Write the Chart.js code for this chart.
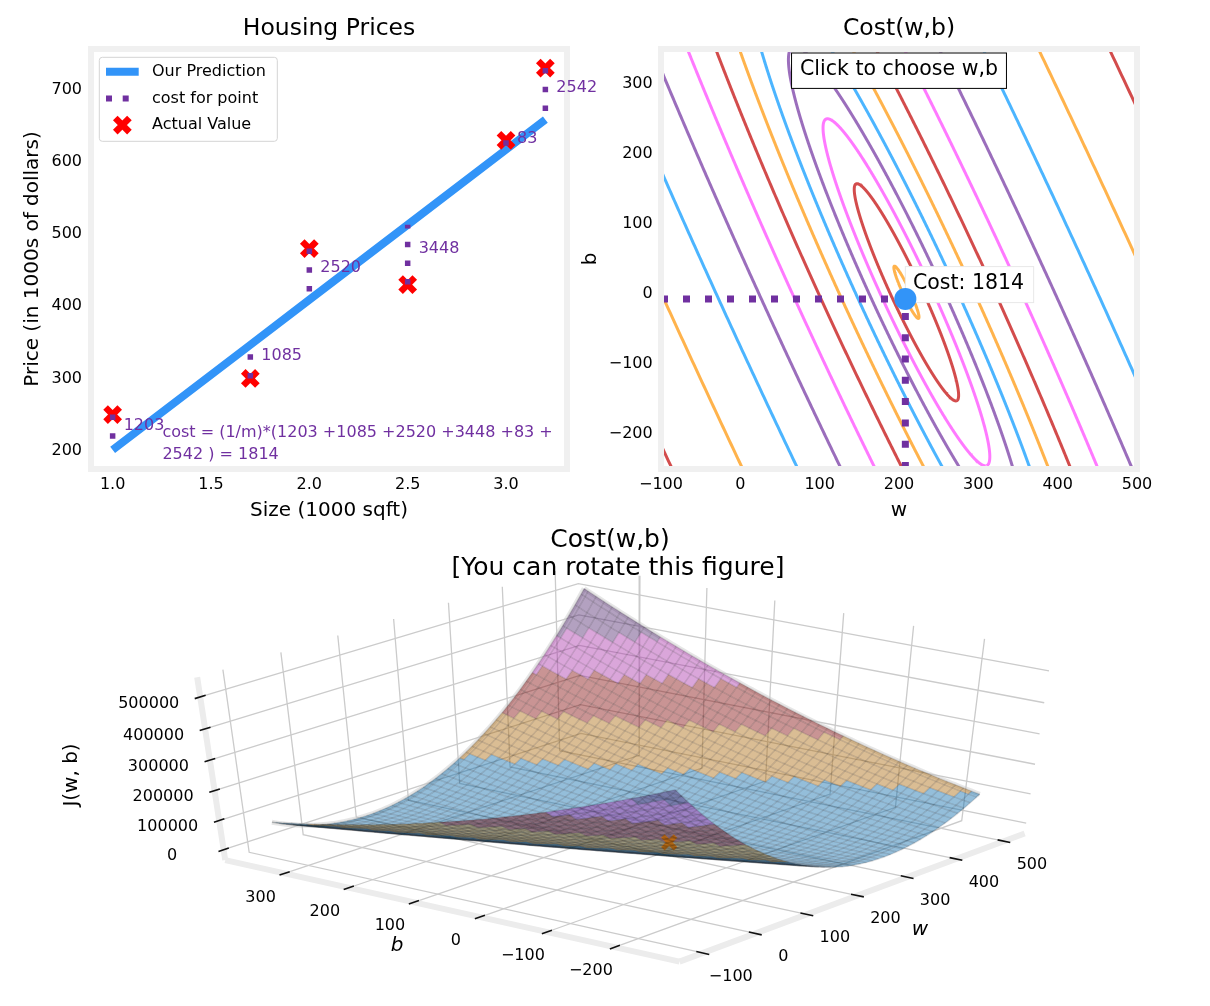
<!DOCTYPE html>
<html>
<head>
<meta charset="utf-8">
<title>Housing prices and cost</title>
<script src="https://cdn.jsdelivr.net/npm/chart.js@4.4.1/dist/chart.umd.min.js"></script>
<style>
  html, body { margin: 0; padding: 0; background: #ffffff; }
  #page { position: relative; width: 1210px; height: 1006px; overflow: hidden; }
  #page canvas { position: absolute; }
</style>
</head>
<body>
<div id="page">
  <canvas id="housing" width="600" height="530" style="left:0;top:0;width:600px;height:530px"></canvas>
  <canvas id="contour" width="635" height="530" style="left:575px;top:0;width:635px;height:530px"></canvas>
  <canvas id="surface" width="1210" height="486" style="left:0;top:520px;width:1210px;height:486px"></canvas>
</div>
<script>
// ---- values ----
const sizeX = [1.0, 1.7, 2.0, 2.5, 3.0, 3.2];          // 1000 sqft
const priceY = [250, 300, 480, 430, 630, 730];         // 1000s of dollars
const wPick = 208;                                     // chosen w
const bPick = -7;                                      // chosen b
const pointCost = [1203, 1085, 2520, 3448, 83, 2542];  // cost for each point
const totalCost = 1814;

const xTicks = [1.0, 1.5, 2.0, 2.5, 3.0];
const yTicks = [200, 300, 400, 500, 600, 700];
const wTicks = [-100, 0, 100, 200, 300, 400, 500];
const bTicks = [-200, -100, 0, 100, 200, 300];
const zTicks = [0, 100000, 200000, 300000, 400000, 500000];

const wRange = [-100, 500];
const bRange = [-250, 350];
const gridN = 100;
const contourLevels = [7.0, 7.5, 8.0, 8.5, 9.0, 9.5, 10.0, 10.5, 11.0, 11.5, 12.0, 12.5, 13.0, 13.5]; // log(cost)

// ---- styling ----
const FONT = "'DejaVu Sans', sans-serif";
const dlblue = '#0096ff', dlorange = '#FF9300', dldarkred = '#C00000', dlmagenta = '#FF40FF', dlpurple = '#7030A0';
const dlcolors = [dlblue, dlorange, dldarkred, dlmagenta, dlpurple];
const lineBlue = 'rgb(50,148,248)';

Chart.defaults.font.family = FONT;
Chart.defaults.color = '#000';
Chart.defaults.animation = false;
Chart.defaults.events = [];
Chart.defaults.plugins.legend.display = false;
Chart.defaults.plugins.tooltip.enabled = false;

function rgba(hex, a, k) {
  k = k === undefined ? 1 : k;
  const n = parseInt(hex.slice(1), 16);
  return 'rgba(' + Math.round(((n >> 16) & 255) * k) + ',' + Math.round(((n >> 8) & 255) * k) + ',' + Math.round((n & 255) * k) + ',' + a + ')';
}
const fmt = v => v < 0 ? '\u2212' + Math.abs(v) : String(v);

function noGrid() { return { display: false, drawTicks: false }; }

// light grey thick frame like the mpl style
const framePlugin = {
  id: 'frame',
  afterDatasetsDraw(chart) {
    const a = chart.chartArea, ctx = chart.ctx;
    ctx.save();
    ctx.strokeStyle = '#f0f0f0';
    ctx.lineWidth = 6;
    ctx.strokeRect(a.left, a.top, a.right - a.left, a.bottom - a.top);
    ctx.restore();
  }
};

function drawCross(ctx, x, y, r, lw, color) {
  const d = r * Math.SQRT1_2;
  ctx.save();
  ctx.strokeStyle = color;
  ctx.lineWidth = lw;
  ctx.beginPath();
  ctx.moveTo(x - d, y - d); ctx.lineTo(x + d, y + d);
  ctx.moveTo(x - d, y + d); ctx.lineTo(x + d, y - d);
  ctx.stroke();
  ctx.restore();
}

// ================= Housing Prices =================
const pred = sizeX.map(x => wPick * x + bPick);
const allY = priceY.concat(pred);
const xPad = 0.05 * (Math.max(...sizeX) - Math.min(...sizeX));
const yPad = 0.05 * (Math.max(...allY) - Math.min(...allY));

const housingLabels = {
  id: 'housingLabels',
  afterDraw(chart) {
    const ctx = chart.ctx, a = chart.chartArea;
    const xs = chart.scales.x, ys = chart.scales.y;
    ctx.save();
    ctx.fillStyle = dlpurple;
    ctx.font = '16px ' + FONT;
    ctx.textAlign = 'left';
    ctx.textBaseline = 'middle';
    sizeX.forEach((x, i) => {
      const px = xs.getPixelForValue(x) + 11;
      const py = ys.getPixelForValue((priceY[i] + pred[i]) / 2) - 6;
      ctx.fillText(String(pointCost[i]), px, py);
    });
    const first = pointCost.slice(0, 5).join(' +');
    const rest = pointCost.slice(5).join(' +');
    const tx = a.left + 0.15 * (a.right - a.left);
    ctx.fillText('cost = (1/m)*(' + first + ' +', tx, a.bottom - 36);
    ctx.fillText(rest + ' ) = ' + totalCost, tx, a.bottom - 14);

    // legend
    const bx = a.left + 8.3, by = a.top + 8.3, bw = 178, bh = 84;
    ctx.beginPath();
    if (ctx.roundRect) ctx.roundRect(bx, by, bw, bh, 3); else ctx.rect(bx, by, bw, bh);
    ctx.fillStyle = 'rgba(255,255,255,0.85)';
    ctx.fill();
    ctx.strokeStyle = '#d4d4d4';
    ctx.lineWidth = 1;
    ctx.stroke();
    const rowY = k => by + 14.4 + k * 26.7;
    const s0 = bx + 6.7, s1 = bx + 39.4;
    ctx.strokeStyle = lineBlue; ctx.lineWidth = 8;
    ctx.beginPath(); ctx.moveTo(s0, rowY(0)); ctx.lineTo(s1, rowY(0)); ctx.stroke();
    ctx.strokeStyle = dlpurple; ctx.lineWidth = 6; ctx.setLineDash([6, 10.7]);
    ctx.beginPath(); ctx.moveTo(s0, rowY(1)); ctx.lineTo(s1, rowY(1)); ctx.stroke();
    ctx.setLineDash([]);
    drawCross(ctx, (s0 + s1) / 2, rowY(2), 10, 6.5, '#ff0000');
    ctx.fillStyle = '#000';
    ctx.font = '16px ' + FONT;
    ['Our Prediction', 'cost for point', 'Actual Value'].forEach((t, k) => ctx.fillText(t, bx + 52.7, rowY(k)));
    ctx.restore();
  }
};

new Chart(document.getElementById('housing'), {
  type: 'scatter',
  data: {
    datasets: [
      ...sizeX.map((x, i) => ({
        label: 'cost for point',
        data: [{ x: x, y: priceY[i] }, { x: x, y: pred[i] }],
        showLine: true, borderColor: dlpurple, borderWidth: 5.5,
        borderDash: [5.5, 13.2], borderCapStyle: 'butt', pointRadius: 0, order: 0
      })),
      {
        label: 'Actual Value',
        data: sizeX.map((x, i) => ({ x: x, y: priceY[i] })),
        pointStyle: 'crossRot', pointRadius: 10, pointBorderWidth: 6.5,
        pointBorderColor: '#ff0000', pointBackgroundColor: '#ff0000', order: 1
      },
      {
        label: 'Our Prediction',
        data: sizeX.map((x, i) => ({ x: x, y: pred[i] })),
        showLine: true, borderColor: lineBlue, borderWidth: 8, pointRadius: 0, order: 2
      }
    ]
  },
  options: {
    responsive: false,
    layout: { padding: { top: 0, right: 33, bottom: 0, left: 0 }, autoPadding: false },
    scales: {
      x: {
        type: 'linear', min: Math.min(...sizeX) - xPad, max: Math.max(...sizeX) + xPad,
        grid: noGrid(), border: { display: false },
        afterBuildTicks: s => { s.ticks = xTicks.map(v => ({ value: v })); },
        afterFit: s => { s.height = 61; },
        ticks: { font: { size: 16 }, padding: 6.4, maxRotation: 0, autoSkip: false, callback: v => Number(v).toFixed(1) },
        title: { display: true, text: 'Size (1000 sqft)', font: { size: 20 }, padding: { top: 0, bottom: 7 } }
      },
      top: {
        type: 'linear', position: 'top', grid: noGrid(), border: { display: false },
        ticks: { display: false },
        afterFit: s => { s.height = 49; },
        title: { display: true, text: 'Housing Prices', font: { size: 23.5 }, padding: { top: 14.4, bottom: 0 } }
      },
      y: {
        type: 'linear', min: Math.min(...allY) - yPad, max: Math.max(...allY) + yPad,
        grid: noGrid(), border: { display: false },
        afterBuildTicks: s => { s.ticks = yTicks.map(v => ({ value: v })); },
        afterFit: s => { s.width = 91; },
        ticks: { font: { size: 16 }, padding: 9, autoSkip: false, callback: v => String(v) },
        title: { display: true, text: 'Price (in 1000s of dollars)', font: { size: 20 }, padding: { top: 21, bottom: 0 } }
      }
    }
  },
  plugins: [framePlugin, housingLabels]
});

// ================= Cost contour =================
const m = sizeX.length;
function costAt(w, b) {
  let s = 0;
  for (let i = 0; i < m; i++) { const e = w * sizeX[i] + b - priceY[i]; s += e * e; }
  return s / (2 * m);
}
const sumX = sizeX.reduce((s, v) => s + v, 0);
const sumXX = sizeX.reduce((s, v) => s + v * v, 0);
const sumY = priceY.reduce((s, v) => s + v, 0);
const sumXY = sizeX.reduce((s, v, i) => s + v * priceY[i], 0);
const wBest = (m * sumXY - sumX * sumY) / (m * sumXX - sumX * sumX);
const bBest = (sumY - wBest * sumX) / m;
const jBest = costAt(wBest, bBest);
const qa = sumXX / (2 * m), qb = sumX / (2 * m), qc = 0.5;
const qHalf = (qa + qc) / 2, qRad = Math.sqrt(((qa - qc) / 2) ** 2 + qb * qb);
const lam1 = qHalf - qRad, lam2 = qHalf + qRad;
const e1n = Math.hypot(qb, lam1 - qa);
const e1 = [qb / e1n, (lam1 - qa) / e1n];
const e2 = [-e1[1], e1[0]];

function levelCurve(level) {
  const r2 = level - jBest;
  if (r2 <= 0) return [];
  const a1 = Math.sqrt(r2 / lam1), a2 = Math.sqrt(r2 / lam2);
  const pts = [];
  const n = 1440;
  for (let k = 0; k <= n; k++) {
    const t = 2 * Math.PI * k / n;
    const c = a1 * Math.cos(t), s = a2 * Math.sin(t);
    pts.push({ x: wBest + c * e1[0] + s * e2[0], y: bBest + c * e1[1] + s * e2[1] });
  }
  return pts;
}

const contourSets = [];
contourLevels.forEach((L, k) => {
  const pts = levelCurve(Math.exp(L));
  if (!pts.length) return;
  contourSets.push({
    data: pts, showLine: true, borderColor: rgba(dlcolors[k % 5], 0.7),
    borderWidth: 3, pointRadius: 0, tension: 0.0001, order: 3
  });
});

const contourLabels = {
  id: 'contourLabels',
  beforeDatasetDraw(chart, args) {
    if (!chart.data.datasets[args.index].isPick) return;
    const ctx = chart.ctx;
    const px = chart.scales.x.getPixelForValue(wPick);
    const py = chart.scales.y.getPixelForValue(bPick);
    ctx.save();
    ctx.fillStyle = '#ffffff';
    ctx.fillRect(px, py - 32.3, 128.3, 36);
    ctx.strokeStyle = '#e8e8e8';
    ctx.lineWidth = 1;
    ctx.strokeRect(px, py - 32.3, 128.3, 36);
    ctx.fillStyle = '#000';
    ctx.font = '20.5px ' + FONT;
    ctx.textAlign = 'left';
    ctx.textBaseline = 'middle';
    ctx.fillText('Cost: ' + totalCost, px + 7.6, py - 15.3);
    ctx.restore();
  },
  afterDatasetsDraw(chart) {
    const ctx = chart.ctx, a = chart.chartArea;
    const cx = (a.left + a.right) / 2;
    ctx.save();
    ctx.font = '20.5px ' + FONT;
    const txt = 'Click to choose w,b';
    const tw = ctx.measureText(txt).width;
    const bx = cx - tw / 2 - 9, by = a.top + 3.5, bw = tw + 18, bh = 36.4;
    ctx.fillStyle = '#ffffff';
    ctx.fillRect(bx, by, bw, bh);
    ctx.strokeStyle = '#000';
    ctx.lineWidth = 1;
    ctx.strokeRect(bx + 0.5, by + 0.5, bw - 1, bh - 1);
    ctx.fillStyle = '#000';
    ctx.textAlign = 'center';
    ctx.textBaseline = 'middle';
    ctx.fillText(txt, cx, by + bh / 2 - 1);
    ctx.restore();
  }
};

new Chart(document.getElementById('contour'), {
  type: 'scatter',
  data: {
    datasets: [
      {
        isPick: true,
        data: [{ x: wPick, y: bPick }],
        pointRadius: 11, pointBackgroundColor: lineBlue, pointBorderWidth: 0, order: 0
      },
      {
        data: [{ x: wRange[0], y: bPick }, { x: wPick, y: bPick }],
        showLine: true, borderColor: dlpurple, borderWidth: 7, borderDash: [7, 15],
        borderCapStyle: 'butt', pointRadius: 0, order: 1
      },
      {
        data: [{ x: wPick, y: bRange[0] }, { x: wPick, y: bPick }],
        showLine: true, borderColor: dlpurple, borderWidth: 7, borderDash: [7, 14.3],
        borderCapStyle: 'butt', pointRadius: 0, order: 1
      },
      ...contourSets
    ]
  },
  options: {
    responsive: false,
    layout: { padding: { top: 0, right: 73, bottom: 0, left: 0 }, autoPadding: false },
    scales: {
      x: {
        type: 'linear', min: wRange[0], max: wRange[1],
        grid: noGrid(), border: { display: false },
        afterBuildTicks: s => { s.ticks = wTicks.map(v => ({ value: v })); },
        afterFit: s => { s.height = 61; },
        ticks: { font: { size: 16 }, padding: 6.4, maxRotation: 0, autoSkip: false, callback: v => fmt(v) },
        title: { display: true, text: 'w', font: { size: 20 }, padding: { top: 0, bottom: 7 } }
      },
      top: {
        type: 'linear', position: 'top', grid: noGrid(), border: { display: false },
        ticks: { display: false },
        afterFit: s => { s.height = 49; },
        title: { display: true, text: 'Cost(w,b)', font: { size: 23.5 }, padding: { top: 14.4, bottom: 0 } }
      },
      y: {
        type: 'linear', min: bRange[0], max: bRange[1],
        grid: noGrid(), border: { display: false },
        afterBuildTicks: s => { s.ticks = bTicks.map(v => ({ value: v })); },
        afterFit: s => { s.width = 86; },
        ticks: { font: { size: 16 }, padding: 8.3, autoSkip: false, callback: v => fmt(v) },
        title: { display: true, text: 'b', font: { size: 20 }, padding: { top: 4, bottom: 0 } }
      }
    }
  },
  plugins: [framePlugin, contourLabels]
});

// ================= 3D cost surface =================
const wGrid = [], bGrid = [];
for (let i = 0; i < gridN; i++) {
  wGrid.push(wRange[0] + (wRange[1] - wRange[0]) * i / (gridN - 1));
  bGrid.push(bRange[0] + (bRange[1] - bRange[0]) * i / (gridN - 1));
}
const zGrid = wGrid.map(w => bGrid.map(b => costAt(w, b)));
let zMin = Infinity, zMax = -Infinity;
zGrid.forEach(row => row.forEach(z => { if (z < zMin) zMin = z; if (z > zMax) zMax = z; }));

function padLim(lo, hi) { const s = hi - lo; return [lo - 0.05 * s, hi + 0.05 * s]; }
function paneBox(lim) { const d = (lim[1] - lim[0]) / 48; return [lim[0] - d, lim[1] + d]; }
const wLim = padLim(wRange[0], wRange[1]);
const bLim = padLim(bRange[0], bRange[1]);
const zLim = padLim(zMin, zMax);
const wBox = paneBox(wLim), bBox = paneBox(bLim), zBox = paneBox(zLim);

// camera and placement of the 3D box on the canvas
const view = { elev: 40, azim: -142, dist: 10 };
const screen3d = { cx: 627.6, cy: 238.5, kx: 5650, ky: 2285, w: 1210, h: 486 };
const er = view.elev * Math.PI / 180, ar = view.azim * Math.PI / 180;
const nV = [Math.cos(er) * Math.cos(ar), Math.cos(er) * Math.sin(ar), Math.sin(er)];
const uV = [-Math.sin(ar), Math.cos(ar), 0];
const vV = [-Math.sin(er) * Math.cos(ar), -Math.sin(er) * Math.sin(ar), Math.cos(er)];

function project(w, b, z) {
  const p = [
    (w - wLim[0]) / (wLim[1] - wLim[0]) - 0.5,
    (b - bLim[0]) / (bLim[1] - bLim[0]) - 0.5,
    (z - zLim[0]) / (zLim[1] - zLim[0]) - 0.5
  ];
  const dot = v => v[0] * p[0] + v[1] * p[1] + v[2] * p[2];
  const depth = dot(nV);
  const d = view.dist - depth;
  return { x: dot(uV) / d, y: dot(vV) / d, depth: depth };
}
const xy = p => ({ x: p.x, y: p.y });

const P = zGrid.map((row, i) => row.map((z, j) => project(wGrid[i], bGrid[j], z)));

const strideIdx = [];
for (let i = 0; i < gridN - 1; i += 2) strideIdx.push(i);
strideIdx.push(gridN - 1);

const faces = [];
for (let a = 0; a < strideIdx.length - 1; a++) {
  for (let c = 0; c < strideIdx.length - 1; c++) {
    const i0 = strideIdx[a], i1 = strideIdx[a + 1], j0 = strideIdx[c], j1 = strideIdx[c + 1];
    const corners = [[i0, j0], [i1, j0], [i1, j1], [i0, j1]];
    let zs = 0, ds = 0;
    corners.forEach(([i, j]) => { zs += zGrid[i][j]; ds += P[i][j].depth; });
    faces.push({ corners: corners, zAvg: zs / 4, depth: ds / 4 });
  }
}
let fLo = Infinity, fHi = -Infinity;
faces.forEach(f => { if (f.zAvg < fLo) fLo = f.zAvg; if (f.zAvg > fHi) fHi = f.zAvg; });
const faceColors = dlcolors.map(c => rgba(c, 0.42, 0.66));
faces.sort((p, q) => q.depth - p.depth); // nearest first (drawn last)

const faceSets = faces.map(f => {
  const band = Math.min(4, Math.floor((f.zAvg - fLo) / (fHi - fLo) * 5));
  return {
    data: f.corners.map(([i, j]) => xy(P[i][j])),
    showLine: true, fill: 'shape', backgroundColor: faceColors[band],
    borderWidth: 0, pointRadius: 0
  };
});

const wireSets = [];
strideIdx.forEach(i => wireSets.push(bGrid.map((_, j) => xy(P[i][j]))));
strideIdx.forEach(j => wireSets.push(wGrid.map((_, i) => xy(P[i][j]))));
const wireDatasets = wireSets.map(d => ({
  data: d, showLine: true, borderColor: 'rgba(0,0,0,0.12)', borderWidth: 1.5, pointRadius: 0
}));

// faint light edge around the surface border
const last = gridN - 1;
const rimPts = [];
for (let j = 0; j <= last; j++) rimPts.push(xy(P[last][j]));
const rimPts2 = [];
for (let i = 0; i <= last; i++) rimPts2.push(xy(P[i][last]));
const rimSets = [rimPts, rimPts2].map(d => ({
  data: d, showLine: true, borderColor: 'rgba(200,200,200,0.45)', borderWidth: 5, pointRadius: 0
}));

function seg(pts, color, width) {
  return { data: pts.map(q => xy(project(q[0], q[1], q[2]))), showLine: true, borderColor: color, borderWidth: width, pointRadius: 0, borderCapStyle: 'butt' };
}
const gridColor = '#cbcbcb';
const gridSets = [];
wTicks.forEach(w => gridSets.push(seg([[w, bBox[0], zBox[0]], [w, bBox[1], zBox[0]], [w, bBox[1], zBox[1]]], gridColor, 1.3)));
bTicks.forEach(b => gridSets.push(seg([[wBox[1], b, zBox[1]], [wBox[1], b, zBox[0]], [wBox[0], b, zBox[0]]], gridColor, 1.3)));
zTicks.forEach(z => gridSets.push(seg([[wBox[0], bBox[1], z], [wBox[1], bBox[1], z], [wBox[1], bBox[0], z]], gridColor, 1.3)));

const spineColor = '#ececec';
const spineSets = [
  seg([[wBox[0], bBox[0], zBox[0]], [wBox[1], bBox[0], zBox[0]]], spineColor, 6),
  seg([[wBox[0], bBox[0], zBox[0]], [wBox[0], bBox[1], zBox[0]]], spineColor, 6),
  seg([[wBox[0], bBox[1], zBox[0]], [wBox[0], bBox[1], zBox[1]]], spineColor, 6)
];
const dW = (wLim[1] - wLim[0]) / 12, dB = (bLim[1] - bLim[0]) / 12;
const tickSets = [];
wTicks.forEach(w => tickSets.push(seg([[w, bBox[0] - 0.17 * dB, zBox[0]], [w, bBox[0] + 0.17 * dB, zBox[0]]], '#111', 1.6)));
bTicks.forEach(b => tickSets.push(seg([[wBox[0] - 0.17 * dW, b, zBox[0]], [wBox[0] + 0.17 * dW, b, zBox[0]]], '#111', 1.6)));
zTicks.forEach(z => tickSets.push(seg([[wBox[0] - 0.17 * dW, bBox[1], z], [wBox[0] + 0.17 * dW, bBox[1], z]], '#111', 1.6)));

const pickPoint = xy(project(wPick, bPick, totalCost));
const markerSet = {
  data: [pickPoint], pointStyle: 'crossRot', pointRadius: 9, pointBorderWidth: 5,
  pointBorderColor: 'rgba(195,105,5,0.85)', pointBackgroundColor: 'rgba(195,105,5,0.85)'
};

const surfaceLabels = {
  id: 'surfaceLabels',
  afterDraw(chart) {
    const ctx = chart.ctx, xs = chart.scales.x, ys = chart.scales.y;
    const px = (w, b, z) => { const p = project(w, b, z); return [xs.getPixelForValue(p.x), ys.getPixelForValue(p.y)]; };
    ctx.save();
    ctx.fillStyle = '#000';
    ctx.textAlign = 'center';
    ctx.textBaseline = 'middle';
    ctx.font = '16px ' + FONT;
    wTicks.forEach(w => { const q = px(w, bBox[0], zBox[0]); ctx.fillText(fmt(w), q[0] + 28, q[1] + 23.5); });
    bTicks.forEach(b => { const q = px(wBox[0], b, zBox[0]); ctx.fillText(fmt(b), q[0] - 24, q[1] + 24); });
    zTicks.forEach(z => { const q = px(wBox[0], bBox[1], z); ctx.fillText(fmt(z), q[0] - 51.5, q[1] + 6.5); });

    ctx.font = 'italic 20px ' + FONT;
    let q = px((wLim[0] + wLim[1]) / 2, bBox[0], zBox[0]);
    ctx.fillText('w', q[0] + 62.6, q[1] + 34.5);
    q = px(wBox[0], (bLim[0] + bLim[1]) / 2, zBox[0]);
    ctx.fillText('b', q[0] - 49.8, q[1] + 36.4);
    q = px(wBox[0], bBox[1], (zLim[0] + zLim[1]) / 2);
    ctx.font = '20px ' + FONT;
    ctx.translate(q[0] - 139.7, q[1] + 3.2);
    ctx.rotate(-Math.PI / 2);
    ctx.fillText('J(w, b)', 0, 0);
    ctx.restore();

    ctx.save();
    ctx.fillStyle = '#000';
    ctx.textAlign = 'center';
    ctx.textBaseline = 'middle';
    ctx.font = '25px ' + FONT;
    ctx.fillText('Cost(w,b) ', 614, 20);
    ctx.fillText(' [You can rotate this figure]', 614, 48);
    ctx.restore();
  }
};

new Chart(document.getElementById('surface'), {
  type: 'scatter',
  data: {
    datasets: [...wireDatasets, markerSet, ...faceSets, ...rimSets, ...tickSets, ...spineSets, ...gridSets]
  },
  options: {
    responsive: false,
    layout: { padding: 0, autoPadding: false },
    scales: {
      x: { display: false, min: -screen3d.cx / screen3d.kx, max: (screen3d.w - screen3d.cx) / screen3d.kx },
      y: { display: false, min: (screen3d.cy - screen3d.h) / screen3d.ky, max: screen3d.cy / screen3d.ky }
    }
  },
  plugins: [surfaceLabels]
});
</script>
</body>
</html>
